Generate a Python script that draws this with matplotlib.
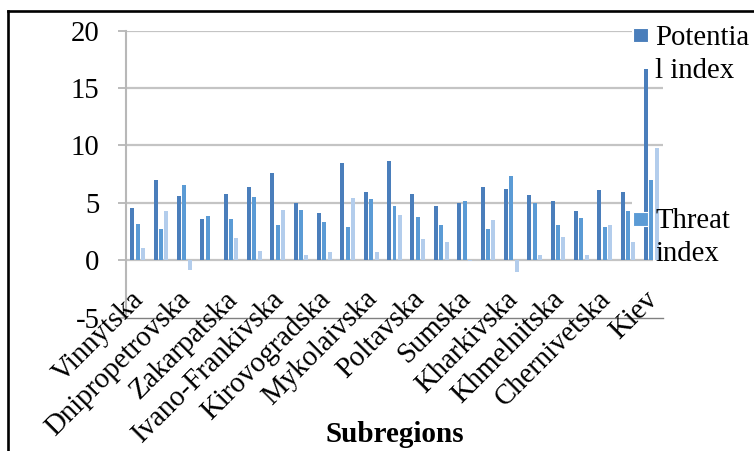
import matplotlib
matplotlib.use("Agg")
import matplotlib.pyplot as plt
from matplotlib.patches import Rectangle
from matplotlib.lines import Line2D
import numpy as np

# Subregion labels (every other category carries a label)
labels = ["Vinnytska", "Dnipropetrovska", "Zakarpatska", "Ivano-Frankivska",
          "Kirovogradska", "Mykolaivska", "Poltavska", "Sumska",
          "Kharkivska", "Khmelnitska", "Chernivetska", "Kiev"]

potential = [4.55, 6.99, 5.62, 3.62, 5.80, 6.38, 7.62, 5.01, 4.14, 8.49, 5.94, 8.67,
             5.80, 4.75, 5.01, 6.41, 6.23, 5.65, 5.19, 4.26, 6.09, 5.94, 16.67]
threat = [3.19, 2.75, 6.58, 3.83, 3.62, 5.48, 3.07, 4.41, 3.36, 2.90, 5.30, 4.72,
          3.80, 3.10, 5.19, 2.75, 7.30, 5.01, 3.10, 3.65, 2.93, 4.26, 7.01]
third = [1.07, 4.26, -0.87, 0.05, 1.97, 0.78, 4.41, 0.46, 0.67, 5.45, 0.67, 3.94,
         1.83, 1.54, -0.05, 3.51, -1.07, 0.46, 2.00, 0.46, 3.10, 1.54, 9.77]

yticks = [-5, 0, 5, 10, 15, 20]

W, H = 754, 451
DPI = 100
plt.rcParams["font.family"] = ["Liberation Serif", "DejaVu Serif"]

fig = plt.figure(figsize=(W / DPI, H / DPI), dpi=DPI)
fig.patch.set_facecolor("white")

ax_l, ax_r, ax_t, ax_b = 126, 663, 30.7, 317.5
ax = fig.add_axes([ax_l / W, 1 - ax_b / H, (ax_r - ax_l) / W, (ax_b - ax_t) / H])

n = len(potential)
x = np.arange(n)
bw = 0.17
c_pot, c_thr, c_thd = "#4A7EBB", "#5B9BD5", "#B3CDEC"

# horizontal gridlines
for v in yticks[1:]:
    ax.axhline(v, color="#C4C4C4", lw=1.6, zorder=0.5)


def px_rect(x0, y0, x1, y1, **kw):
    return Rectangle((x0 / W, 1 - y1 / H), (x1 - x0) / W, (y1 - y0) / H,
                     transform=fig.transFigure, clip_on=False, **kw)


# white areas behind the legend entries (above gridlines, below bars)
for box in [(632, 18, 754, 84), (632, 198, 754, 232), (653, 232, 754, 268)]:
    ax.add_patch(px_rect(*box, facecolor="white", edgecolor="none", zorder=1))

ax.bar(x - 0.23, potential, bw, color=c_pot, zorder=2)
ax.bar(x, threat, bw, color=c_thr, zorder=2)
ax.bar(x + 0.23, third, bw, color=c_thd, zorder=2)

ax.set_xlim(-0.5, n - 0.5)
ax.set_ylim(-5, 20)
ax.set_yticks(yticks)
ax.set_yticklabels([str(v) for v in yticks], fontsize=20.7)
ax.set_xticks([])
ax.tick_params(axis="y", length=6, width=1.2, color="#B0B0B0", pad=13)

for s in ["top", "right"]:
    ax.spines[s].set_visible(False)
ax.spines["left"].set_color("#B8B8B8")
ax.spines["left"].set_linewidth(1.5)
ax.spines["bottom"].set_color("#808080")
ax.spines["bottom"].set_linewidth(1.0)
ax.set_facecolor("none")

# rotated category labels
for i, lab in zip(range(0, n, 2), labels):
    ax.text(i + 0.1, -3.05, lab, rotation=45, rotation_mode="anchor",
            ha="right", va="center", fontsize=20.7, zorder=3)

fig.text(395 / W, 1 - 442 / H, "Subregions", ha="center", va="baseline",
         fontsize=21, fontweight="bold")

# legend entries
ax.add_patch(px_rect(633, 28, 648, 42, facecolor=c_pot, edgecolor="white", lw=0.8, zorder=5))
ax.add_patch(px_rect(633, 212, 648, 226, facecolor=c_thr, edgecolor="white", lw=0.8, zorder=5))
for txt, y in [("Potentia", 45), ("l index", 78), ("Threat", 228), ("index", 261)]:
    fig.text(655 / W, 1 - y / H, txt, ha="left", va="baseline", fontsize=20.7, zorder=6)

# outer frame (left and top edges)
fig.lines.append(Line2D([8 / W, 8 / W], [0, 1 - 11 / H], transform=fig.transFigure,
                        color="black", lw=1.9))
fig.lines.append(Line2D([8 / W, 1], [1 - 11 / H, 1 - 11 / H], transform=fig.transFigure,
                        color="black", lw=1.9))

fig.savefig("out.png", dpi=DPI)
